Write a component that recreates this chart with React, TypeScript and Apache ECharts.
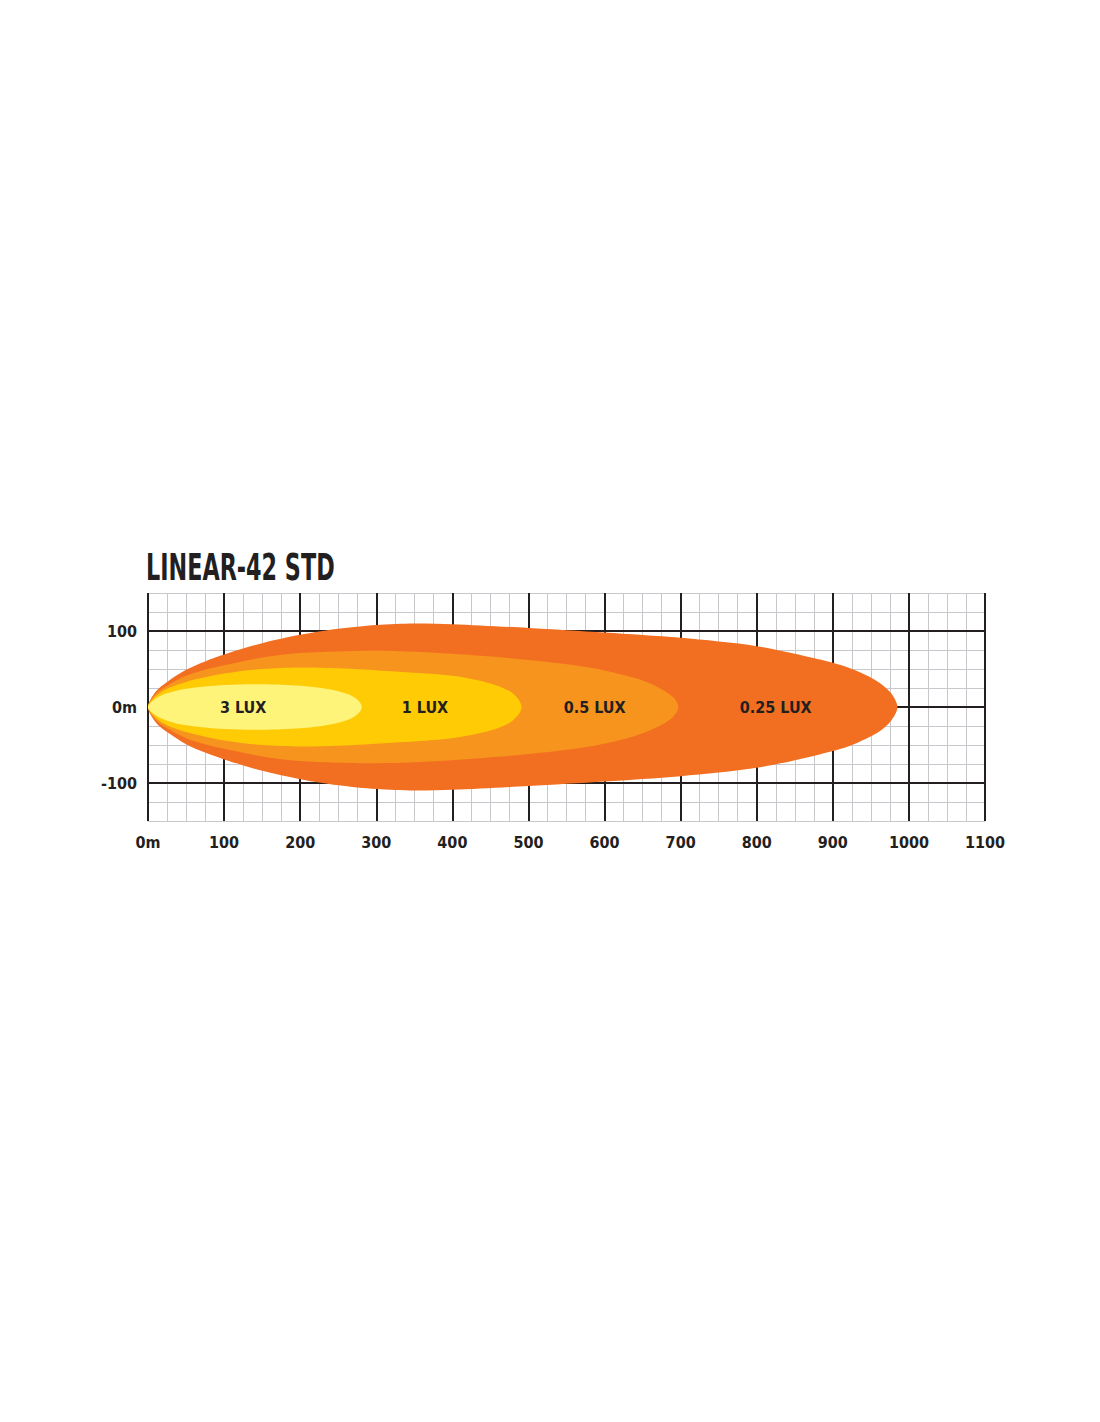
import { useEffect, useRef } from "react";
import * as echarts from "echarts";

const FONT = '"Liberation Sans Narrow", "DejaVu Sans Condensed", "Roboto", sans-serif';
const INK = "#231f20";
const MINOR = "#c8c8cc";

const titleText = "LINEAR-42 STD";

// isolux zones, outermost first
const luxNames = ["0.25 LUX", "0.5 LUX", "1 LUX", "3 LUX"];
const luxColors = ["#f26f21", "#f7941d", "#ffcb05", "#fff47a"];
const luxLabelX = [825, 587, 364, 125];

// distance (m) and half beam width (m) of each zone
const beam025X = [0, 10, 25, 50, 75, 100, 150, 200, 250, 300, 350, 400, 500, 600, 700, 800, 880, 920, 955, 975, 985];
const beam025W = [0, 20, 33, 49, 60, 69, 84, 95, 103, 108, 110, 109, 104, 98, 91, 80, 63, 52, 36, 20, 0];

const beam05X = [0, 10, 25, 50, 75, 100, 150, 200, 300, 400, 500, 580, 640, 670, 690, 697];
const beam05W = [0, 17, 28, 41, 49, 55, 65, 71, 74, 70, 62, 52, 38, 26, 13, 0];

const beam1X = [0, 10, 25, 50, 75, 100, 150, 200, 250, 320, 400, 450, 475, 487, 491];
const beam1W = [0, 14, 24, 33, 39, 44, 50, 52, 51, 47, 41, 31, 21, 10, 0];

const beam3X = [0, 10, 25, 50, 100, 150, 200, 240, 265, 277, 281];
const beam3W = [0, 11, 18, 24, 29, 30, 28, 23, 16, 8, 0];

const beamX = [beam025X, beam05X, beam1X, beam3X];
const beamW = [beam025W, beam05W, beam1W, beam3W];

const axisLabelStyle = {
  color: INK,
  fontFamily: FONT,
  fontWeight: "bold" as const,
  fontSize: 16,
};

export default function App() {
  const ref = useRef<HTMLDivElement>(null);

  useEffect(() => {
    if (!ref.current) return;
    const chart = echarts.init(ref.current, undefined, { renderer: "svg" });

    chart.setOption({
      animation: false,
      backgroundColor: "#ffffff",
      grid: { left: 148, top: 593, width: 837, height: 228, containLabel: false },
      graphic: [
        {
          type: "text",
          x: 146,
          y: 567,
          scaleX: 0.67,
          style: {
            text: titleText,
            fill: INK,
            fontFamily: FONT,
            fontWeight: "bold",
            fontSize: 37,
            verticalAlign: "middle",
          },
        },
      ],
      xAxis: {
        type: "value",
        min: 0,
        max: 1100,
        interval: 100,
        axisLine: { show: false },
        axisTick: { show: false },
        axisLabel: {
          ...axisLabelStyle,
          margin: 13,
          formatter: (v: number) => (v === 0 ? "0m" : String(v)),
        },
        splitLine: { show: true, lineStyle: { color: INK, width: 2 } },
        minorTick: { show: true, splitNumber: 4, length: 0, lineStyle: { color: "rgba(0,0,0,0)" } },
        minorSplitLine: { show: true, lineStyle: { color: MINOR, width: 1 } },
      },
      yAxis: [
        {
          type: "value",
          position: "left",
          min: -150,
          max: 150,
          interval: 25,
          z: 0,
          axisLine: { show: false },
          axisTick: { show: false },
          axisLabel: { show: false },
          splitLine: {
            show: true,
            lineStyle: { color: [MINOR, MINOR, "rgba(0,0,0,0)", MINOR], width: 1 },
          },
        },
        {
          type: "value",
          position: "left",
          min: -150,
          max: 150,
          interval: 50,
          z: 1,
          axisLine: { show: false },
          axisTick: { show: false },
          axisLabel: {
            ...axisLabelStyle,
            margin: 11,
            formatter: (v: number) => (v === 0 ? "0m" : v === 100 || v === -100 ? String(v) : ""),
          },
          splitLine: {
            show: true,
            lineStyle: { color: ["rgba(0,0,0,0)", INK], width: 2 },
          },
        },
      ],
      series: [
        {
          type: "custom",
          name: "beam",
          xAxisIndex: 0,
          yAxisIndex: 1,
          z: 5,
          silent: true,
          data: luxNames.map((_, i) => [luxLabelX[i], 0]),
          renderItem: (params: any, api: any) => {
            const i = params.dataIndex;
            const xs = beamX[i];
            const ws = beamW[i];
            const pts: number[][] = [];
            for (let k = 0; k < xs.length; k++) pts.push(api.coord([xs[k], ws[k]]));
            for (let k = xs.length - 2; k > 0; k--) pts.push(api.coord([xs[k], -ws[k]]));
            return {
              type: "polygon",
              shape: { points: pts, smooth: 0.3 },
              style: { fill: luxColors[i], stroke: null },
            };
          },
        },
        {
          type: "custom",
          name: "labels",
          xAxisIndex: 0,
          yAxisIndex: 1,
          z: 6,
          silent: true,
          data: luxLabelX.map((x, i) => [x, 0, luxNames[i]]),
          renderItem: (params: any, api: any) => {
            const p = api.coord([api.value(0), api.value(1)]);
            return {
              type: "text",
              x: p[0],
              y: p[1],
              style: {
                text: luxNames[params.dataIndex],
                fill: INK,
                fontFamily: FONT,
                fontWeight: "bold",
                fontSize: 16,
                align: "center",
                verticalAlign: "middle",
              },
            };
          },
        },
      ],
    });

    return () => chart.dispose();
  }, []);

  return (
    <div
      ref={ref}
      style={{ position: "absolute", left: 0, top: 0, width: 1100, height: 1422 }}
    />
  );
}
